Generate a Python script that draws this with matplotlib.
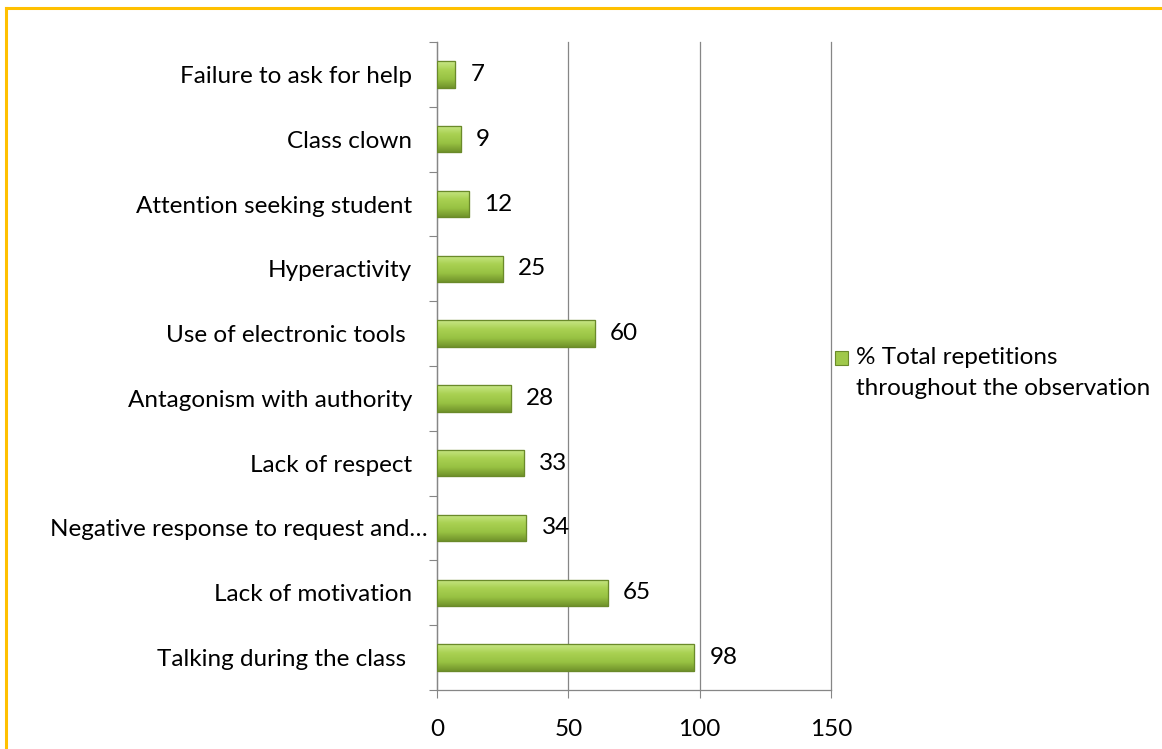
import numpy as np
import matplotlib.pyplot as plt
import matplotlib.transforms as mtransforms
from matplotlib.colors import LinearSegmentedColormap
from matplotlib.patches import Patch, Rectangle
from matplotlib.lines import Line2D
from matplotlib.legend_handler import HandlerPatch

behaviours = [
    "Talking during the class ",
    "Lack of motivation",
    "Negative response to request and\u2026",
    "Lack of respect",
    "Antagonism with authority",
    "Use of electronic tools ",
    "Hyperactivity",
    "Attention seeking student",
    "Class clown",
    "Failure to ask for help",
]
repetitions = [98, 65, 34, 33, 28, 60, 25, 12, 9, 7]
x_ticks = [0, 50, 100, 150]
series_name = "% Total repetitions\nthroughout the observation"

plt.rcParams["font.family"] = ["Lato", "DejaVu Sans"]
grey = "#868686"
fs = 17.5

fig = plt.figure(figsize=(11.62, 7.49), dpi=100)
ax = fig.add_axes([437 / 1162, 1 - 690 / 749, (831 - 437) / 1162, (690 - 42) / 749])

ypos = np.arange(len(behaviours))
bars = ax.barh(ypos, repetitions, height=0.41, color="#9fc84a",
               edgecolor="#6f8f2c", linewidth=0.8, zorder=3)

# vertical gradient inside each bar for the bevelled look
shade = LinearSegmentedColormap.from_list(
    "bevel", ["#71932b", "#98c243", "#a9d152", "#c8e787"])
grad = np.linspace(0, 1, 64).reshape(-1, 1)
for b in bars:
    x0, y0, w, h = b.get_x(), b.get_y(), b.get_width(), b.get_height()
    im = ax.imshow(grad, cmap=shade, origin="lower", aspect="auto",
                   extent=(x0, x0 + w, y0, y0 + h), zorder=3.5)
    im.set_clip_path(b)
    ax.barh(b.get_y() + h / 2, w, height=h, color="none",
            edgecolor="#6a8a2a", linewidth=0.9, zorder=4)

for y, v in zip(ypos, repetitions):
    ax.annotate(str(v), (v, y), xytext=(11, 0), textcoords="offset points",
                va="center", ha="left", fontsize=fs, color="black")

ax.set_xlim(0, 150)
ax.set_ylim(-0.5, len(behaviours) - 0.5)
ax.set_xticks(x_ticks)
ax.set_xticklabels([str(t) for t in x_ticks], fontsize=fs)
ax.tick_params(axis="x", length=6, width=0.8, color=grey, pad=15)
ax.set_yticks(ypos)
ax.set_yticklabels(behaviours, fontsize=fs)
ax.tick_params(axis="y", which="major", length=0, pad=18)
ax.set_yticks(np.arange(-0.5, len(behaviours)), minor=True)
ax.tick_params(axis="y", which="minor", length=6, width=0.8, color=grey)

# truncated label sits closer to the axis
for lab in ax.get_yticklabels():
    if lab.get_text().endswith("\u2026"):
        lab.set_transform(lab.get_transform() +
                          mtransforms.ScaledTranslation(16 / 100, 0, fig.dpi_scale_trans))

ax.grid(axis="x", color=grey, linewidth=0.9, zorder=0)
for gl in ax.get_xgridlines():
    gl.set_clip_on(False)
for s in ["top", "right"]:
    ax.spines[s].set_visible(False)
for s in ["left", "bottom"]:
    ax.spines[s].set_color(grey)
    ax.spines[s].set_linewidth(0.9)


def top_line_square(legend, orig_handle, xdescent, ydescent, width, height, fontsize):
    # put the key next to the first line of the two-line label
    return Rectangle((-xdescent, -ydescent + 0.62 * fontsize), width, height)


handle = Patch(facecolor="#9fc84a", edgecolor="#6a8a2a", linewidth=0.8)
leg = fig.legend([handle], [series_name], loc="center left",
                 bbox_to_anchor=(835 / 1162, 1 - 373 / 749), frameon=False,
                 fontsize=fs, handlelength=0.55, handleheight=0.55,
                 handletextpad=0.3, borderaxespad=0, borderpad=0,
                 handler_map={Patch: HandlerPatch(patch_func=top_line_square)})
for t in leg.get_texts():
    t.set_linespacing(1.55)

# frame around the chart area (top and left edges)
fig.add_artist(Line2D([5.5 / 1162, 5.5 / 1162], [0, 1 - 7.5 / 749],
                      transform=fig.transFigure, color="#ffc000", linewidth=2.2))
fig.add_artist(Line2D([5.5 / 1162, 1], [1 - 7.5 / 749, 1 - 7.5 / 749],
                      transform=fig.transFigure, color="#ffc000", linewidth=2.2))

fig.savefig("out.png", dpi=100)
